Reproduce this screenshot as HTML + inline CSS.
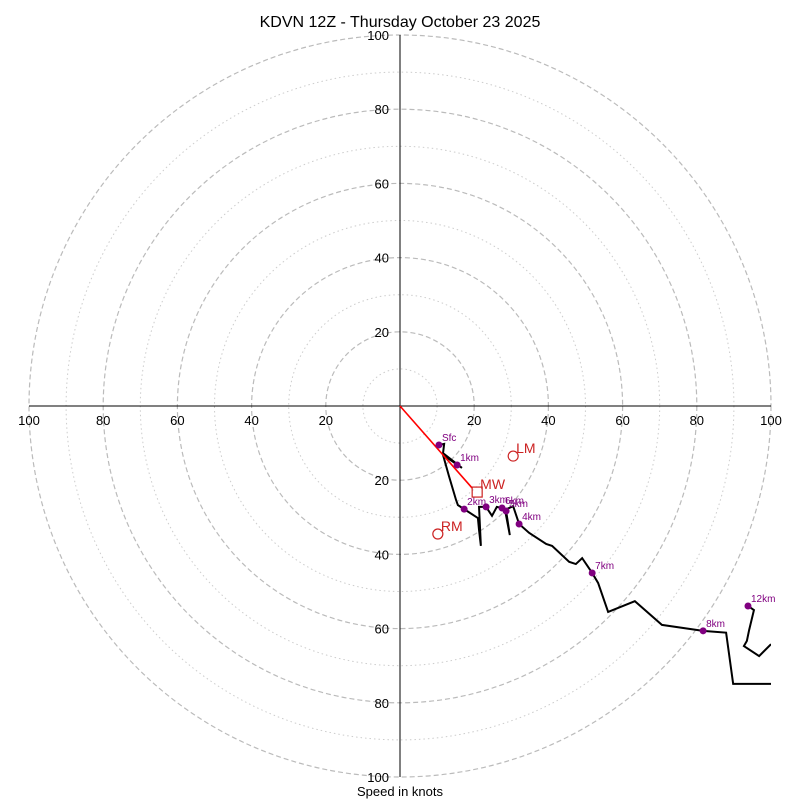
<!DOCTYPE html>
<html><head><meta charset="utf-8"><style>
body{margin:0;background:#fff}svg{display:block;font-family:"Liberation Sans","DejaVu Sans",sans-serif}
</style></head><body>
<svg id="c" width="800" height="800" viewBox="0 0 800 800">
<text x="400" y="27" text-anchor="middle" font-size="16">KDVN 12Z - Thursday October 23 2025</text>
<text x="400" y="796" text-anchor="middle" font-size="13">Speed in knots</text>
<defs><clipPath id="clip"><rect x="29" y="35" width="742" height="742"/></clipPath></defs>
<g id="rings"></g><g id="axes"></g><g id="trace" clip-path="url(#clip)"></g><g id="marks"></g>
</svg>
<script>
const ringValues=[10,20,30,40,50,60,70,80,90,100];
const tickLabels=[20,40,60,80,100];
const traceU=[10.5,11.9,11.6,16.7,11.6,13.2,15.1,15.6,17.3,21.0,21.3,21.8,21.3,23.2,24.8,26.1,27.5,28.6,29.6,28.3,30.5,32.1,34.8,39.4,41.0,45.6,47.4,49.1,51.8,53.4,56.1,63.3,70.6,81.7,87.9,89.8,100];
const traceV=[-10.5,-10.2,-12.7,-16.7,-13.2,-18.9,-25.3,-26.7,-27.8,-30.2,-33.4,-37.7,-27.2,-27.2,-29.6,-27.2,-27.5,-28.3,-34.8,-28.0,-27.0,-31.8,-34.2,-37.2,-37.7,-42.0,-42.6,-41.0,-45.0,-47.7,-55.5,-52.6,-59.0,-60.6,-61.1,-74.9,-74.9];
const upperU=[93.8,95.4,94.1,93.5,92.7,96.8,100];
const upperV=[-53.9,-55.0,-60.4,-63.3,-64.7,-67.4,-64.2];
const dotLabels=["Sfc","1km","2km","3km","4km","5km","6km","7km","8km","12km"];
const dotU=[10.5,15.4,17.3,23.2,32.1,28.6,27.5,51.8,81.7,93.8];
const dotV=[-10.5,-15.9,-27.8,-27.2,-31.8,-28.3,-27.5,-45.0,-60.6,-53.9];
const motionLabels=["LM","RM","MW"];
const motionU=[30.5,10.2,20.8];
const motionV=[-13.5,-34.5,-23.2];
const CX=400,CY=406,S=3.71;
const X=u=>CX+u*S, Y=v=>CY-v*S;
const NS="http://www.w3.org/2000/svg";
function mk(t,a,p){const e=document.createElementNS(NS,t);for(const k in a)e.setAttribute(k,a[k]);p.appendChild(e);return e;}
const rings=document.getElementById('rings'),axes=document.getElementById('axes'),trace=document.getElementById('trace'),marks=document.getElementById('marks');
ringValues.forEach(r=>{const major=r%20===0;
const c=mk('circle',{cx:CX,cy:CY,r:r*S,fill:'none',stroke:major?'#bbb':'#ccc','stroke-width':major?1.2:1,'stroke-dasharray':major?'5,3':'1.5,3'},rings);

});
let l=mk('line',{x1:X(-100),y1:CY,x2:X(100),y2:CY,stroke:'#000','stroke-width':1},axes);


l=mk('line',{x1:CX,y1:Y(100),x2:CX,y2:Y(-100),stroke:'#000','stroke-width':1},axes);


tickLabels.forEach(t=>{
 [[X(t),CY+19,'middle'],[X(-t),CY+19,'middle'],[CX-11,Y(t)+5,'end'],[CX-11,Y(-t)+5,'end']].forEach(p=>{
 const e=mk('text',{x:p[0],y:p[1],'text-anchor':p[2],'font-size':13},axes);e.textContent=t;
 
 });});
let p=mk('polyline',{points:traceU.map((u,i)=>X(u)+','+Y(traceV[i])).join(' '),fill:'none',stroke:'#000','stroke-width':2},trace);


p=mk('polyline',{points:upperU.map((u,i)=>X(u)+','+Y(upperV[i])).join(' '),fill:'none',stroke:'#000','stroke-width':2},trace);


l=mk('line',{x1:CX,y1:CY,x2:X(motionU[2])-5,y2:Y(motionV[2])-4,stroke:'red','stroke-width':1.6},marks);


dotLabels.forEach((n,i)=>{
 const d=mk('circle',{cx:X(dotU[i]),cy:Y(dotV[i]),r:3.5,fill:'purple'},marks);
 
 
 const t=mk('text',{x:X(dotU[i])+3,y:Y(dotV[i])-4,'font-size':10,fill:'purple'},marks);t.textContent=n;
 
 });
motionLabels.forEach((n,i)=>{const x=X(motionU[i]),y=Y(motionV[i]);let e;
 if(n==='MW')e=mk('rect',{x:x-5,y:y-5,width:10,height:10,fill:'none',stroke:'#c22','stroke-width':1.2},marks);
 else e=mk('circle',{cx:x,cy:y,r:5,fill:'none',stroke:'#c22','stroke-width':1.2},marks);
 
 
 const t=mk('text',{x:x+3,y:y-3,'font-size':14,fill:'#c22'},marks);t.textContent=n;
 
 });
</script>
</body></html>
